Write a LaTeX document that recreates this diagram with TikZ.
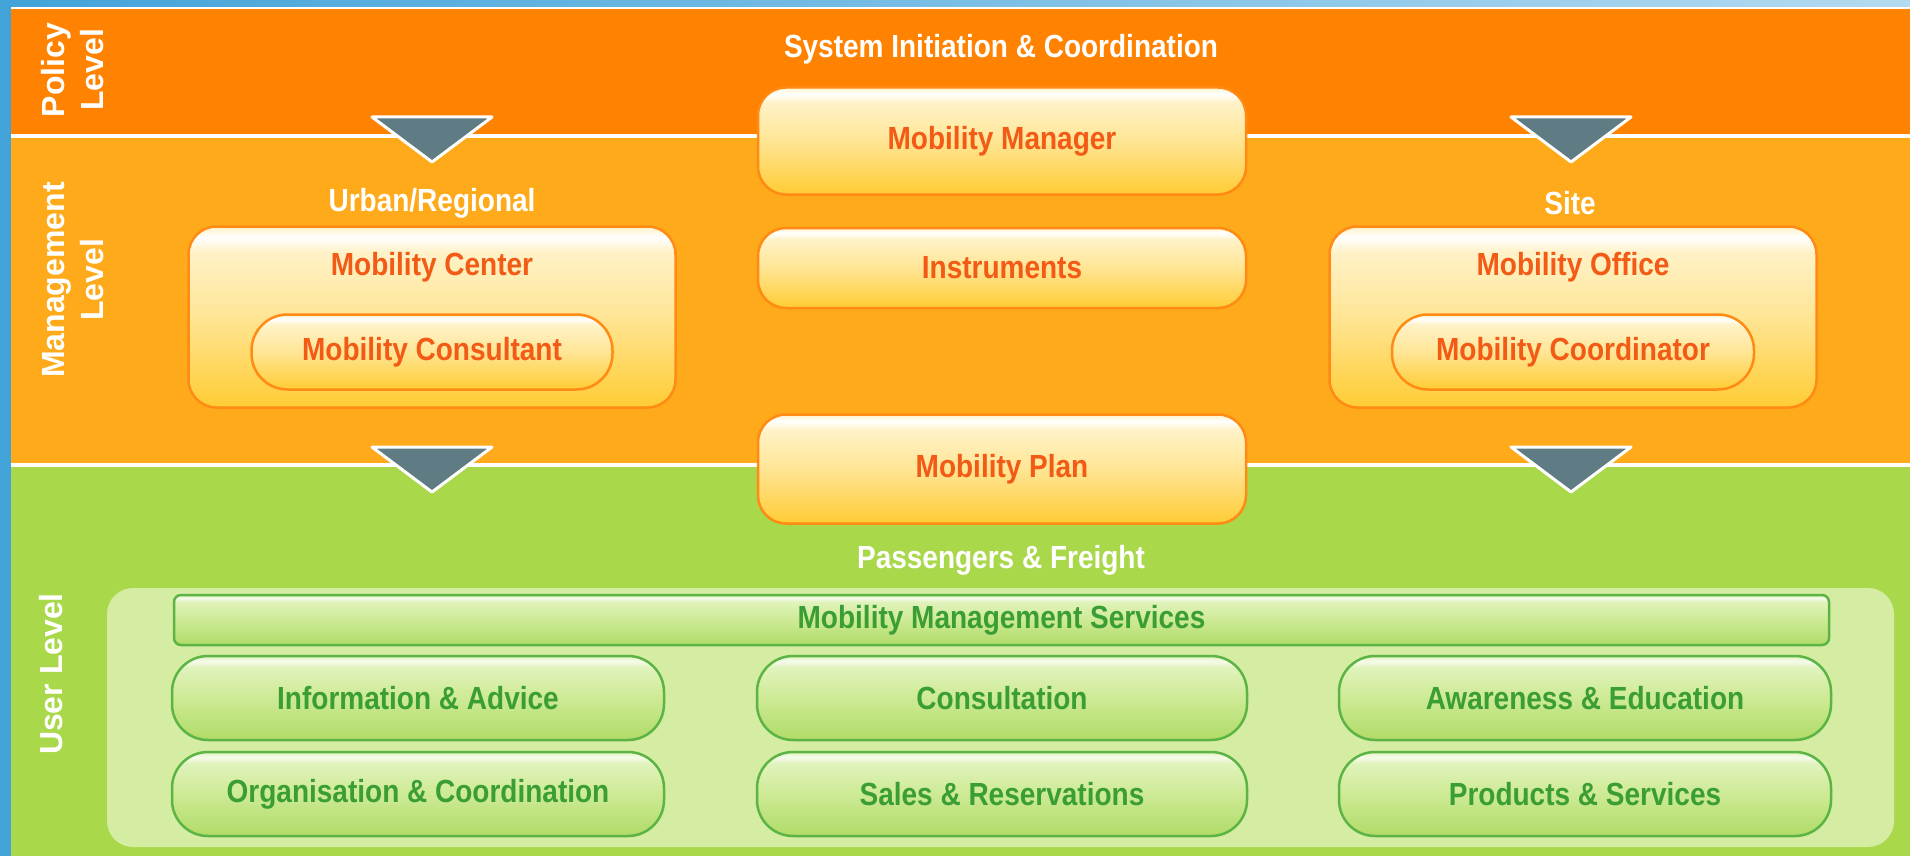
\documentclass[tikz,border=0pt]{standalone}
\usepackage{fontspec}
\setmainfont{Liberation Sans}
\newfontfamily\narrowfont{Liberation Sans}[FakeStretch=0.875]
\usepackage{xcolor}

\definecolor{frameblue}{HTML}{42A3D9}
\definecolor{policybg}{HTML}{FF8200}
\definecolor{managebg}{HTML}{FEAA1A}
\definecolor{userbg}{HTML}{A9D84B}
\definecolor{panelbg}{HTML}{D5EDA2}
\definecolor{markerslate}{HTML}{5F7B84}
\definecolor{oline}{HTML}{FF8A14}
\definecolor{otext}{HTML}{F25A16}
\definecolor{otop}{HTML}{FFF2C8}
\definecolor{omid}{HTML}{FFE594}
\definecolor{obottom}{HTML}{FFCC34}
\definecolor{gline}{HTML}{5BB443}
\definecolor{gtext}{HTML}{3A9E34}
\definecolor{gtop}{HTML}{E0F3BC}
\definecolor{gmid}{HTML}{CDEA94}
\definecolor{gbottom}{HTML}{B0DB68}

\pgfdeclareverticalshading{oshade}{100bp}{color(0bp)=(obottom); color(25bp)=(obottom);
	color(50bp)=(omid); color(68bp)=(otop); color(72bp)=(white); color(75bp)=(otop); color(100bp)=(otop)}
\pgfdeclareverticalshading{gshade}{100bp}{color(0bp)=(gbottom); color(25bp)=(gbottom);
	color(50bp)=(gmid); color(68bp)=(gtop); color(72bp)=(white!70!gtop); color(75bp)=(gtop); color(100bp)=(gtop)}

\begin{document}
\begin{tikzpicture}[x=1pt, y=-1pt,
		labelfont/.style={font=\narrowfont\bfseries\fontsize{32}{36}\selectfont},
		sidelabel/.style={text=white, font=\bfseries\fontsize{32}{39}\selectfont, rotate=90, align=center, inner sep=0pt},
		bandtitle/.style={labelfont, text=white, inner sep=0pt},
		sepline/.style={white, line width=3.5pt},
		marker/.style={fill=markerslate, draw=white, line width=3pt, line join=round},
		obox/.style={labelfont, text=otext, draw=oline, line width=2.5pt, rounded corners=28pt,
			shading=oshade, minimum width=488pt, inner sep=0pt},
		otitle/.style={labelfont, text=otext, inner sep=0pt},
		gbox/.style={labelfont, text=gtext, draw=gline, line width=2.5pt, rounded corners=36pt,
			shading=gshade, minimum width=492pt, minimum height=84pt, inner sep=0pt},
		gbar/.style={gbox, rounded corners=7pt, minimum width=1655pt, minimum height=50pt},
		panel/.style={fill=panelbg, rounded corners=26pt, minimum width=1787pt, minimum height=259pt, inner sep=0pt}]
	\useasboundingbox (0,0) rectangle (1910,856);
	
	\fill[frameblue] (0,0) rectangle (1910,856);
	\shade[left color=frameblue, right color=frameblue!40!white] (0,0) rectangle (1910,7);
	\fill[white] (11,7) rectangle (1910,9);
	\fill[policybg] (11,9) rectangle (1910,136);
	\fill[managebg] (11,136) rectangle (1910,465);
	\fill[userbg] (11,465) rectangle (1910,856);
	\draw[sepline] (11,136) -- (1910,136);
	\draw[sepline] (11,465) -- (1910,465);
	
	\node[sidelabel] (policy) at (73,70) {Policy\\Level};
	\node[sidelabel] (management) at (73,280) {Management\\Level};
	\node[sidelabel, anchor=base] (user) at (62,674) {User Level};
	
	\foreach \x/\y in {432/117, 1571/117, 432/447, 1571/447}
		\filldraw[marker] (\x-60,\y) -- (\x+60,\y) -- (\x,\y+45) -- cycle;
	
	\node[bandtitle] (initiation) at (1001,49) {System Initiation \& Coordination};
	\node[bandtitle] (urban) at (432,203) {Urban/Regional};
	\node[bandtitle] (site) at (1570,203) {Site};
	\node[bandtitle] (passengers) at (1001,560) {Passengers \& Freight};
	
	\node[obox, minimum height=107pt] (manager) at (1002,141) {Mobility Manager};
	\node[obox, minimum height=80pt] (instruments) at (1002,268) {Instruments};
	\node[obox, minimum height=109pt] (plan) at (1002,469) {Mobility Plan};
	
	\node[obox, minimum width=487pt, minimum height=181pt] (mcenter) at (432,317) {};
	\node[otitle] (mcentertitle) at (432,267) {Mobility Center};
	\node[obox, minimum width=361pt, minimum height=75pt, rounded corners=36pt] (consultant) at (432,352) {Mobility Consultant};
	
	\node[obox, minimum width=487pt, minimum height=181pt] (moffice) at (1573,317) {};
	\node[otitle] (mofficetitle) at (1573,267) {Mobility Office};
	\node[obox, minimum width=362pt, minimum height=75pt, rounded corners=36pt] (coordinator) at (1573,352) {Mobility Coordinator};
	
	\node[panel] (userpanel) at (1000.5,717.5) {};
	\node[gbar] (services) at (1001.5,620) {Mobility Management Services};
	
	\node[gbox] (advice) at (418,698) {Information \& Advice};
	\node[gbox, minimum width=490pt] (consultation) at (1002,698) {Consultation};
	\node[gbox] (awareness) at (1585,698) {Awareness \& Education};
	\node[gbox] (organisation) at (418,794) {Organisation \& Coordination};
	\node[gbox, minimum width=490pt] (sales) at (1002,794) {Sales \& Reservations};
	\node[gbox] (products) at (1585,794) {Products \& Services};
\end{tikzpicture}
\end{document}
